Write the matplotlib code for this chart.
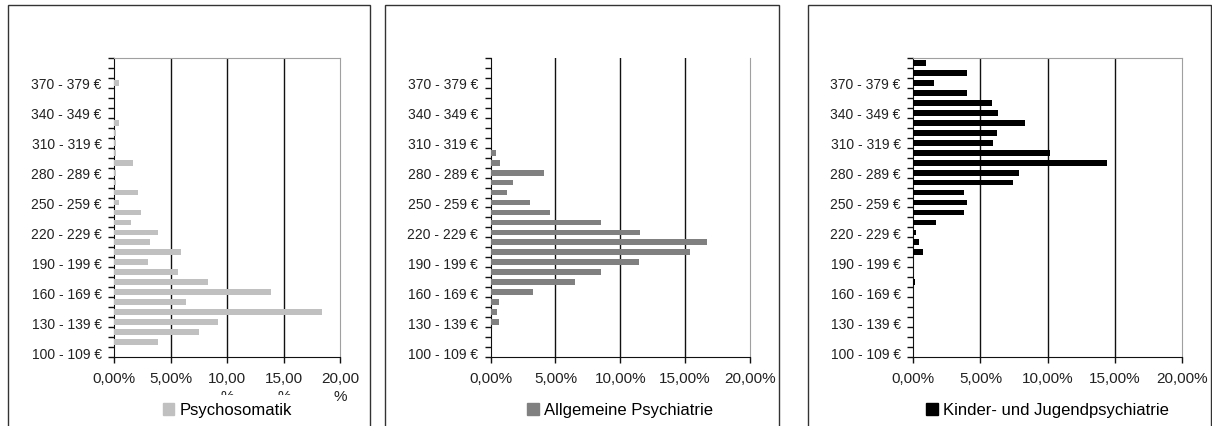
import matplotlib
matplotlib.use("Agg")
import matplotlib.pyplot as plt
from matplotlib.patches import Rectangle
from matplotlib.transforms import Bbox

plt.rcParams['font.family'] = ['Liberation Sans', 'DejaVu Sans']

# price classes 100-109 € ... 390-399 € (bottom to top)
starts = list(range(100, 400, 10))
categories = [f"{s} - {s + 9} €" for s in starts]

psychosomatik = [0, 3.83, 7.49, 9.17, 18.38, 6.31, 13.86, 8.26, 5.6, 2.95,
                 5.87, 3.16, 3.83, 1.45, 2.39, 0.41, 2.06, 0.18, 0.18, 1.62,
                 0.18, 0.18, 0.18, 0.4, 0, 0, 0, 0.41, 0, 0]
allg_psychiatrie = [0, 0, 0, 0.64, 0.49, 0.64, 3.24, 6.49, 8.49, 11.45,
                    15.39, 16.73, 11.53, 8.49, 4.58, 3.01, 1.24, 1.75, 4.12, 0.72,
                    0.41, 0, 0, 0, 0, 0, 0, 0, 0, 0]
kjp = [0, 0, 0, 0, 0, 0, 0, 0.15, 0, 0,
       0.72, 0.45, 0.22, 1.66, 3.75, 3.97, 3.75, 7.39, 7.89, 14.42,
       10.17, 5.96, 6.25, 8.34, 6.33, 5.83, 3.97, 1.51, 3.97, 0.94]

series = [("Psychosomatik", psychosomatik, "#c0c0c0"),
          ("Allgemeine Psychiatrie", allg_psychiatrie, "#808080"),
          ("Kinder- und Jugendpsychiatrie", kjp, "#000000")]

W, H = 1212, 427
fig = plt.figure(figsize=(W / 100, H / 100), dpi=100)

# chart area frames (pixels)
frames = [(8, 370), (385, 779), (808, 1211)]
for x0, x1 in frames:
    fig.add_artist(Rectangle((x0 / W, -0.05), (x1 - x0) / W, 1.05 - 6 / H,
                             transform=fig.transFigure, fill=False,
                             edgecolor="#333333", linewidth=1.0))

# plot areas (pixels): left, right
plots = [(114.3, 340.3), (490.7, 749.7), (913.3, 1182)]
top_px, bot_px = 59, 358

pos = list(range(len(categories)))
xticks = [0, 5, 10, 15, 20]

for i, ((name, vals, col), (l, r)) in enumerate(zip(series, plots)):
    ax = fig.add_axes([l / W, (H - bot_px) / H, (r - l) / W, (bot_px - top_px) / H])
    ax.barh(pos, vals, height=0.58, color=col, zorder=3)
    ax.set_xlim(0, 20)
    ax.set_ylim(-0.5, len(categories) - 0.5)

    for g in [5, 10, 15]:
        ax.axvline(g, color="#111111", linewidth=1.0, zorder=1)
    ax.spines['right'].set_color("#a0a0a0")
    ax.spines['top'].set_color("#a0a0a0")
    if i == 1:
        ax.spines['top'].set_visible(False)
    ax.spines['left'].set_color("#111111")
    ax.spines['bottom'].set_color("#111111")

    ax.set_yticks(pos[::3])
    ax.set_yticklabels(categories[::3], fontsize=10, color="#222222")
    ax.set_yticks([p - 0.5 for p in pos] + [len(pos) - 0.5], minor=True)
    ax.tick_params(axis='y', which='major', length=0, pad=9)
    ax.tick_params(axis='y', which='minor', length=4, width=1, color="#111111")

    ax.set_xticks(xticks)
    if i == 0:
        ax.set_xticklabels(["0,00%", "5,00%", "10,00", "15,00", "20,00"])
    else:
        ax.set_xticklabels([f"{t:.2f}%".replace(".", ",") for t in xticks])
    ax.tick_params(axis='x', length=4, width=1, color="#111111", labelsize=11,
                   labelcolor="#222222", pad=6)

    if i == 0:
        # wrapped "%" of the narrow tick labels, partly cut off
        for t in [10, 15, 20]:
            txt = ax.text(t, 0, "%", transform=ax.get_xaxis_transform(),
                          fontsize=11, color="#222222", ha="center", va="center")
            txt.set_position((t, -(397 - bot_px) / (bot_px - top_px)))
            if t != 20:
                txt.set_clip_box(Bbox([[0, H - 395.5], [W, H]]))
                txt.set_clip_on(True)

    cx = (l + r) / 2
    leg = ax.legend([Rectangle((0, 0), 1, 1, color=col)], [name], loc="center",
                    bbox_to_anchor=(cx / W, (H - 411) / H),
                    bbox_transform=fig.transFigure, frameon=False,
                    fontsize=12, handlelength=0.7, handleheight=0.7,
                    handletextpad=0.3, borderpad=0)

fig.savefig("out.png", dpi=100)
